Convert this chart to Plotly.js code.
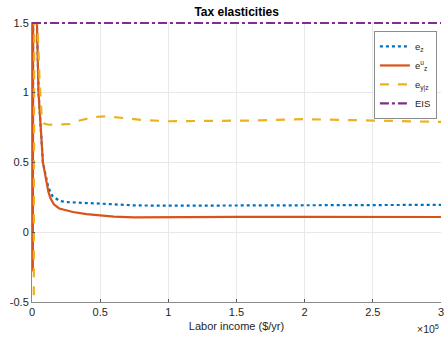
<!DOCTYPE html>
<html>
<head>
<meta charset="utf-8">
<script src="https://cdn.plot.ly/plotly-3.0.1.min.js"></script>
<style>html,body{margin:0;padding:0;background:#fff;}#chart{width:444px;height:339px;}</style>
</head>
<body>
<div id="chart"></div>
<script>
// Labor income ($/yr)
const xEz = [600, 1000, 3600, 4800, 8000, 10000, 12000, 15000, 20000, 25000, 30000, 40000, 50000, 60000, 75000, 100000, 150000, 200000, 250000, 300000];
const ez  = [-0.28, 3.0, 1.5, 1.0, 0.5, 0.40, 0.32, 0.26, 0.225, 0.216, 0.212, 0.209, 0.205, 0.198, 0.192, 0.19, 0.191, 0.193, 0.195, 0.196];

const xEzu = [600, 1000, 3600, 4800, 8000, 10000, 12000, 13500, 16000, 20000, 25000, 30000, 40000, 50000, 60000, 75000, 100000, 150000, 200000, 250000, 300000];
const ezu  = [-0.28, 3.0, 1.5, 1.0, 0.5, 0.38, 0.29, 0.245, 0.2, 0.17, 0.155, 0.145, 0.13, 0.12, 0.112, 0.106, 0.108, 0.11, 0.11, 0.11, 0.109];

const xEyz = [1000, 2000, 4000, 5500, 7000, 8500, 12000, 20000, 28000, 35000, 45000, 55000, 65000, 80000, 100000, 130000, 160000, 200000, 230000, 260000, 300000];
const eyz  = [-2.0, 3.0, 1.5, 1.1, 0.85, 0.78, 0.77, 0.77, 0.775, 0.80, 0.825, 0.83, 0.82, 0.805, 0.795, 0.797, 0.80, 0.81, 0.805, 0.795, 0.79];

const xEIS = [0, 300000];
const eis  = [1.5, 1.5];

const xTickVals = [0, 50000, 100000, 150000, 200000, 250000, 300000];
const xTickText = ["0", "0.5", "1", "1.5", "2", "2.5", "3"];
const yTickVals = [-0.5, 0, 0.5, 1, 1.5];
const yTickText = ["-0.5", "0", "0.5", "1", "1.5"];

const names = ["e<sub>z</sub>", "e<sup>u</sup><sub>z</sub>", "e<sub>y|z</sub>", "EIS"];

const font = "Liberation Sans, Arial, sans-serif";

const traces = [
  {x: xEz, y: ez, name: names[0], mode: "lines", line: {color: "#0072BD", width: 2.2, dash: "dot"}},
  {x: xEzu, y: ezu, name: names[1], mode: "lines", line: {color: "#D95319", width: 2.2}},
  {x: xEyz, y: eyz, name: names[2], mode: "lines", line: {color: "#EDB120", width: 2.2, dash: "dash"}},
  {x: xEIS, y: eis, name: names[3], mode: "lines", line: {color: "#7E2F8E", width: 2.2, dash: "dashdot"}}
];

const layout = {
  width: 444, height: 339,
  margin: {l: 32, r: 3, t: 22, b: 37},
  paper_bgcolor: "#fff", plot_bgcolor: "#fff",
  font: {family: font, size: 11, color: "#262626"},
  title: {text: "<b>Tax elasticities</b>", font: {family: font, size: 12, color: "#000"}, x: 0.533, xanchor: "center", y: 0.965, yanchor: "middle"},
  xaxis: {
    range: [0, 300000], tickvals: xTickVals, ticktext: xTickText,
    ticklabeloverflow: "allow",
    showgrid: true, gridcolor: "#e8e8e8", gridwidth: 1,
    zeroline: false, showline: true, linecolor: "#8c8c8c", linewidth: 1,
    ticks: "inside", ticklen: 3, tickcolor: "#555",
    tickfont: {size: 11, color: "#262626"},
    title: {text: "Labor income ($/yr)", font: {size: 11, color: "#262626"}, standoff: 5}
  },
  yaxis: {
    range: [-0.5, 1.506], tickvals: yTickVals, ticktext: yTickText,
    showgrid: true, gridcolor: "#e8e8e8", gridwidth: 1,
    zeroline: false, showline: true, linecolor: "#8c8c8c", linewidth: 1,
    ticks: "inside", ticklen: 3, tickcolor: "#555",
    tickfont: {size: 11, color: "#262626"}
  },
  legend: {
    x: 0.99, xanchor: "right", y: 0.968, yanchor: "top",
    bgcolor: "#fff", bordercolor: "#8c8c8c", borderwidth: 1,
    font: {size: 9.5, color: "#262626"}, tracegroupgap: 0, itemwidth: 30
  },
  annotations: [
    {text: "×10<sup>5</sup>", xref: "paper", yref: "paper", x: 1.0, xanchor: "right", y: -0.095, yanchor: "middle", showarrow: false, font: {size: 10.5, color: "#262626"}}
  ],
  showlegend: true
};

Plotly.newPlot("chart", traces, layout, {displayModeBar: false, staticPlot: true});
</script>
</body>
</html>
